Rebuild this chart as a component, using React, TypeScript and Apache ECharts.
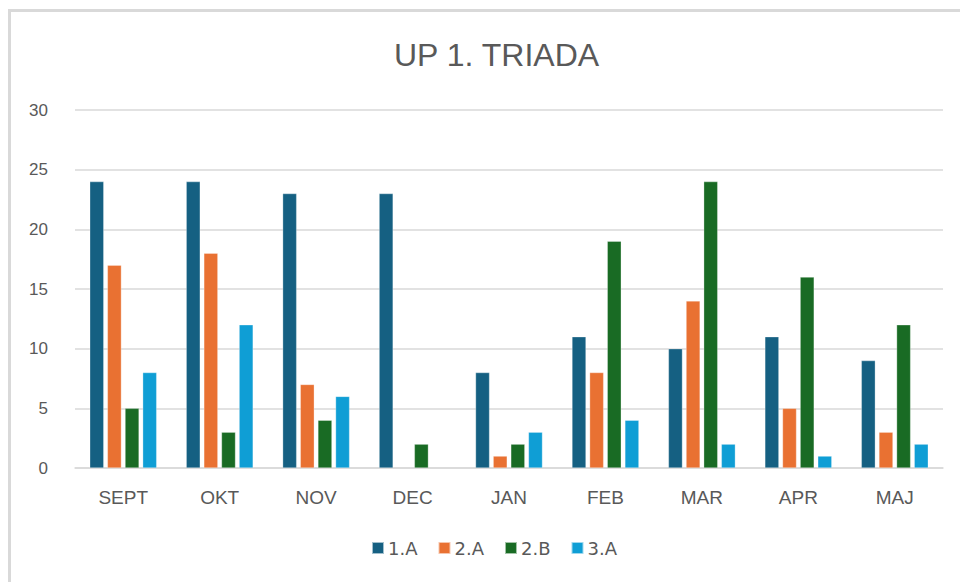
import React, { useEffect, useRef } from "react";
import * as echarts from "echarts";

const categories = ["SEPT", "OKT", "NOV", "DEC", "JAN", "FEB", "MAR", "APR", "MAJ"];
const seriesNames = ["1.A", "2.A", "2.B", "3.A"];
const values1A = [24, 24, 23, 23, 8, 11, 10, 11, 9];
const values2A = [17, 18, 7, null, 1, 8, 14, 5, 3];
const values2B = [5, 3, 4, 2, 2, 19, 24, 16, 12];
const values3A = [8, 12, 6, null, 3, 4, 2, 1, 2];
const colors = ["#156082", "#E97132", "#196B24", "#0F9ED5"];
const titleText = "UP 1. TRIADA";

export default function App() {
  const ref = useRef<HTMLDivElement>(null);
  useEffect(() => {
    if (!ref.current) return;
    const chart = echarts.init(ref.current, null, { renderer: "svg" });
    const data = [values1A, values2A, values2B, values3A];
    const font = "'Liberation Sans', Arial, sans-serif";
    const wideFont = "'DejaVu Sans', sans-serif";
    chart.setOption({
      animation: false,
      backgroundColor: "#ffffff",
      title: {
        text: titleText,
        left: 389,
        top: 34,
        textStyle: { color: "#595959", fontSize: 32, fontWeight: "normal", fontFamily: font },
      },
      legend: {
        data: seriesNames,
        bottom: 20,
        left: 366,
        itemWidth: 12,
        itemHeight: 12,
        itemGap: 20,
        icon: "rect",
        textStyle: { color: "#595959", fontSize: 18, fontFamily: wideFont, padding: [0, 0, 0, -1] },
      },
      graphic: [
        {
          type: "rect",
          shape: { x: 9.5, y: 10.5, width: 1000, height: 1000 },
          style: { fill: "none", stroke: "#d9d9d9", lineWidth: 3 },
          silent: true,
        },
      ],
      grid: { left: 75, right: 17, top: 110, bottom: 114 },
      xAxis: {
        type: "category",
        data: categories,
        axisTick: { show: false },
        axisLine: { lineStyle: { color: "#d9d9d9", width: 1.5 } },
        axisLabel: { color: "#595959", fontSize: 19, fontFamily: font, margin: 20 },
      },
      yAxis: {
        type: "value",
        min: 0,
        max: 30,
        interval: 5,
        axisLine: { show: false },
        axisTick: { show: false },
        axisLabel: { color: "#595959", fontSize: 17, fontFamily: font, margin: 27 },
        splitLine: { lineStyle: { color: "#d9d9d9", width: 1.5 } },
      },
      series: seriesNames.map((name, i) => ({
        name,
        type: "bar",
        data: data[i],
        barWidth: 14,
        barGap: "26%",
        itemStyle: { color: colors[i], borderColor: "rgba(255,255,255,0.6)", borderWidth: 0.5 },
      })),
    });
    return () => chart.dispose();
  }, []);
  return (
    <div
      ref={ref}
      style={{ position: "absolute", left: 0, top: 0, width: 960, height: 582 }}
    />
  );
}
